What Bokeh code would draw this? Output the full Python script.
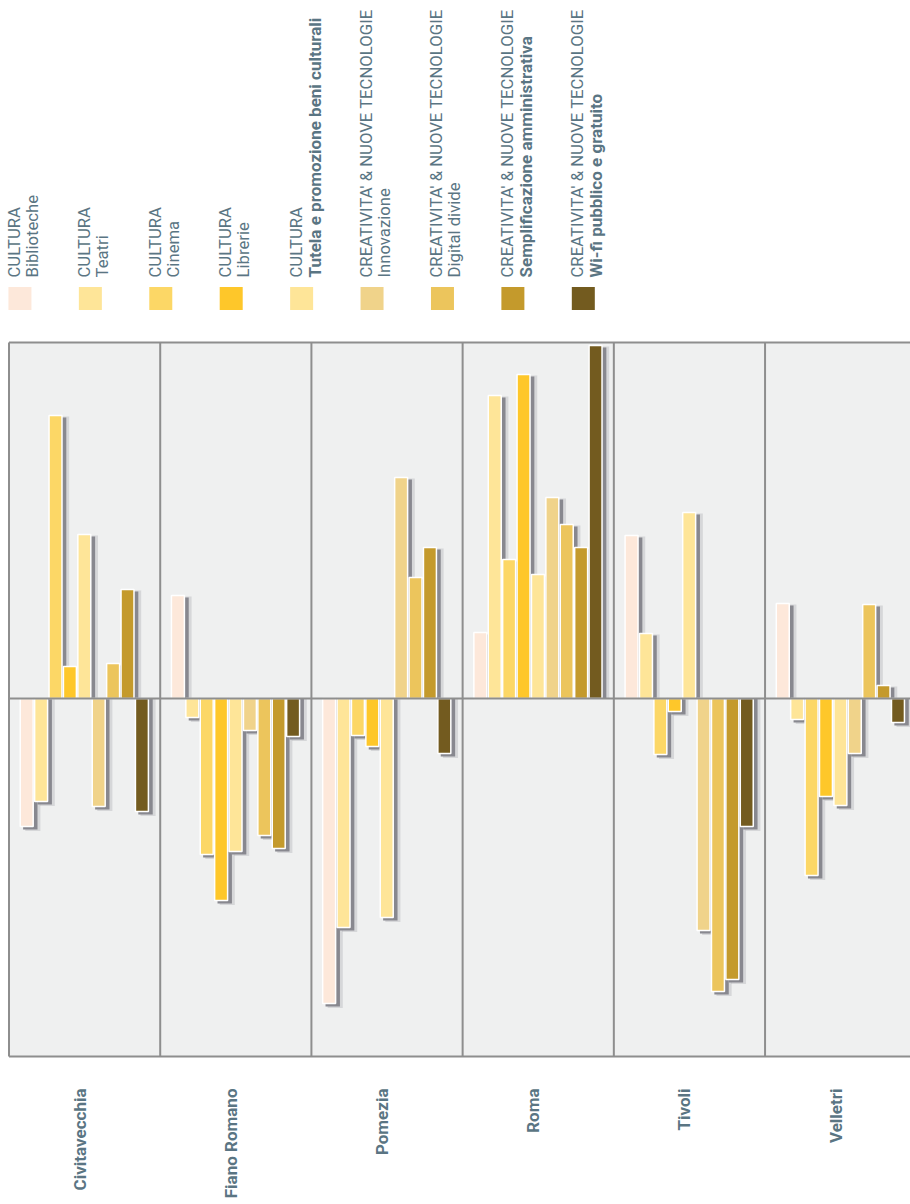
import numpy as np
from bokeh.plotting import figure
from bokeh.models import Range1d, ColumnDataSource
from bokeh.core.properties import value
from bokeh.embed import file_html
from bokeh.resources import INLINE

# --- data -----------------------------------------------------------------
cities = ["Civitavecchia", "Fiano Romano", "Pomezia", "Roma", "Tivoli", "Velletri"]

groups = ["CULTURA"] * 5 + ["CREATIVITA' & NUOVE TECNOLOGIE"] * 4
series = ["Biblioteche", "Teatri", "Cinema", "Librerie",
          "Tutela e promozione beni culturali", "Innovazione", "Digital divide",
          "Semplificazione amministrativa", "Wi-fi pubblico e gratuito"]
colors = ["#fde8da", "#fee598", "#fcd766", "#fec72a", "#fee598",
          "#f0d38a", "#ecc55c", "#c49a2c", "#735b1f"]
bold_sub = [False, False, False, False, True, False, False, True, True]

# one list per series, values in city order
biblioteche = [-12.8, 10.3, -30.5, 6.6, 16.3, 9.5]
teatri = [-10.3, -1.9, -22.9, 30.3, 6.5, -2.1]
cinema = [28.3, -15.6, -3.7, 13.9, -5.6, -17.7]
librerie = [3.2, -20.2, -4.8, 32.4, -1.3, -9.8]
tutela = [16.4, -15.3, -21.9, 12.4, 18.6, -10.7]
innovazione = [-10.8, -3.2, 22.1, 20.1, -23.2, -5.5]
digital_divide = [3.5, -13.7, 12.1, 17.4, -29.3, 9.4]
semplificazione = [10.9, -15.0, 15.1, 15.1, -28.1, 1.3]
wifi = [-11.3, -3.8, -5.5, 35.3, -12.8, -2.4]

values = [biblioteche, teatri, cinema, librerie, tutela,
          innovazione, digital_divide, semplificazione, wifi]

Y_MIN, Y_MAX = -35.8, 35.6

# --- layout helpers -------------------------------------------------------
PANEL = 10.5      # width of one city panel, in bar slots
FIRST = 1.23      # centre of the first bar inside a panel
BAR_W = 0.9

TEXT_COLOR = "#5a7583"
FONT = "Roboto"

p = figure(width=910, height=1204,
           x_range=Range1d(-0.59, 62.6), y_range=Range1d(-50.6, 69.8),
           output_backend="svg", toolbar_location=None, min_border=0)
p.axis.visible = False
p.grid.visible = False
p.outline_line_color = None
p.background_fill_color = "white"

n_city = len(cities)
frame_right = n_city * PANEL

# panel background
p.quad(left=[0], right=[frame_right], bottom=[Y_MIN], top=[Y_MAX],
       fill_color="#eff0f0", line_color=None)

# bars, with soft drop shadows
xs, tops, cols = [], [], []
for si, vals in enumerate(values):
    for ci, v in enumerate(vals):
        xs.append(ci * PANEL + FIRST + si)
        tops.append(v)
        cols.append(colors[si])
xs = np.array(xs)
tops = np.array(tops)

pos = tops > 0
sh_top = np.where(pos, tops - 0.2, 0.0)
sh_bot = np.where(pos, 0.0, tops - 0.3)

p.quad(left=xs - BAR_W / 2 + 0.35, right=xs + BAR_W / 2 + 0.5,
       top=np.where(pos, tops - 0.1, 0.0), bottom=np.where(pos, 0.0, tops - 0.45),
       fill_color="#a8a8ae", fill_alpha=0.35, line_color=None)
p.quad(left=xs - BAR_W / 2 + 0.2, right=xs + BAR_W / 2 + 0.3,
       top=sh_top, bottom=sh_bot,
       fill_color="#88888f", line_color=None)

src = ColumnDataSource(dict(x=xs, top=tops, color=cols))
p.vbar(x="x", top="top", bottom=0, width=BAR_W, source=src,
       fill_color="color", line_color="white", line_width=1.5)

# zero line and panel separators
LINE = "#8e8e8e"
p.segment(x0=[0], x1=[frame_right], y0=[0], y1=[0], line_color=LINE, line_width=2)
p.segment(x0=[0, 0], x1=[frame_right, frame_right], y0=[Y_MIN, Y_MAX], y1=[Y_MIN, Y_MAX],
          line_color=LINE, line_width=2)
seps = [ci * PANEL for ci in range(n_city)]
p.segment(x0=seps, x1=seps, y0=[Y_MIN] * n_city, y1=[Y_MAX] * n_city,
          line_color=LINE, line_width=2)

# city labels under the panels
p.text(x=[ci * PANEL + PANEL / 2 - 0.35 for ci in range(n_city)], y=[-39.0] * n_city,
       text=cities, angle=np.pi / 2, text_align="right", text_baseline="middle",
       text_font=value(FONT), text_font_style="bold", text_font_size="17px",
       text_color=TEXT_COLOR)

# legend: swatches with two-line rotated captions
LEG_STEP = 4.89
leg_x = np.array([0.76 + i * LEG_STEP for i in range(len(series))])
p.rect(x=leg_x, y=[40.0] * len(series), width=23, height=23,
       width_units="screen", height_units="screen",
       fill_color=colors, line_color=None)
p.text(x=leg_x - 1.05, y=[42.1] * len(series), text=groups, angle=np.pi / 2,
       text_align="left", text_baseline="top", text_font=value(FONT),
       text_font_size="16.7px", text_color=TEXT_COLOR)
for bold in (False, True):
    idx = [i for i in range(len(series)) if bold_sub[i] == bold]
    p.text(x=leg_x[idx] + 0.2, y=[42.1] * len(idx), text=[series[i] for i in idx],
           angle=np.pi / 2, text_align="left", text_baseline="top",
           text_font=value(FONT), text_font_size="17px" if bold else "16.7px",
           text_font_style="bold" if bold else "normal", text_color=TEXT_COLOR)

open("out.html", "w").write(file_html(p, INLINE))
